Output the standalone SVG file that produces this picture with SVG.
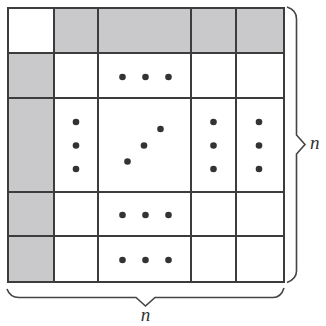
<svg xmlns="http://www.w3.org/2000/svg" width="326" height="326" viewBox="0 0 326 326">
<style>
.cell{fill:#ffffff;stroke:#3c3c3c;stroke-width:2}
.gray{fill:#c9c9cb}
.dot{fill:#333333}
.brace{fill:none;stroke:#444444;stroke-width:1.6;stroke-linejoin:miter}
.lbl{font-family:"Liberation Serif","DejaVu Serif",serif;font-style:italic;font-size:19px;fill:#333333}
</style>
<rect width="326" height="326" fill="#ffffff"/>
<g id="matrix">
<rect x="54" y="8" width="230" height="45" class="gray"/>
<rect x="8" y="53" width="46" height="229" class="gray"/>
<g fill="none" stroke="#3c3c3c" stroke-width="2">
<rect x="8" y="8" width="276" height="274"/>
<path d="M54,8V282M98,8V282M191,8V282M236,8V282M8,53H284M8,98H284M8,192H284M8,236H284"/>
</g>
</g>
<g id="dots" class="dot">
<circle cx="122.5" cy="77" r="3.3"/><circle cx="145.5" cy="77" r="3.3"/><circle cx="168.5" cy="77" r="3.3"/>
<circle cx="76" cy="122" r="3.3"/><circle cx="76" cy="145.5" r="3.3"/><circle cx="76" cy="169" r="3.3"/>
<circle cx="160.5" cy="129" r="3.3"/><circle cx="144" cy="145.5" r="3.3"/><circle cx="127.5" cy="161.5" r="3.3"/>
<circle cx="213.5" cy="122" r="3.3"/><circle cx="213.5" cy="145.5" r="3.3"/><circle cx="213.5" cy="169" r="3.3"/>
<circle cx="259" cy="122" r="3.3"/><circle cx="259" cy="145.5" r="3.3"/><circle cx="259" cy="169" r="3.3"/>
<circle cx="122.5" cy="215" r="3.3"/><circle cx="145.5" cy="215" r="3.3"/><circle cx="168.5" cy="215" r="3.3"/>
<circle cx="122.5" cy="260" r="3.3"/><circle cx="145.5" cy="260" r="3.3"/><circle cx="168.5" cy="260" r="3.3"/>
</g>
<g id="brace-right">
<path class="brace" d="M287,7 Q296.5,10 296.5,19 V135 L305,144.5 L296.5,154 V271 Q296.5,279 287,282.5"/>
<text class="lbl" x="310" y="148.5">n</text>
</g>
<g id="brace-bottom">
<path class="brace" d="M7,289 Q10,297.5 19,297.5 H136 L145.5,306 L155,297.5 H273 Q281,297.5 284,288"/>
<text class="lbl" x="145.5" y="321" text-anchor="middle">n</text>
</g>
</svg>
